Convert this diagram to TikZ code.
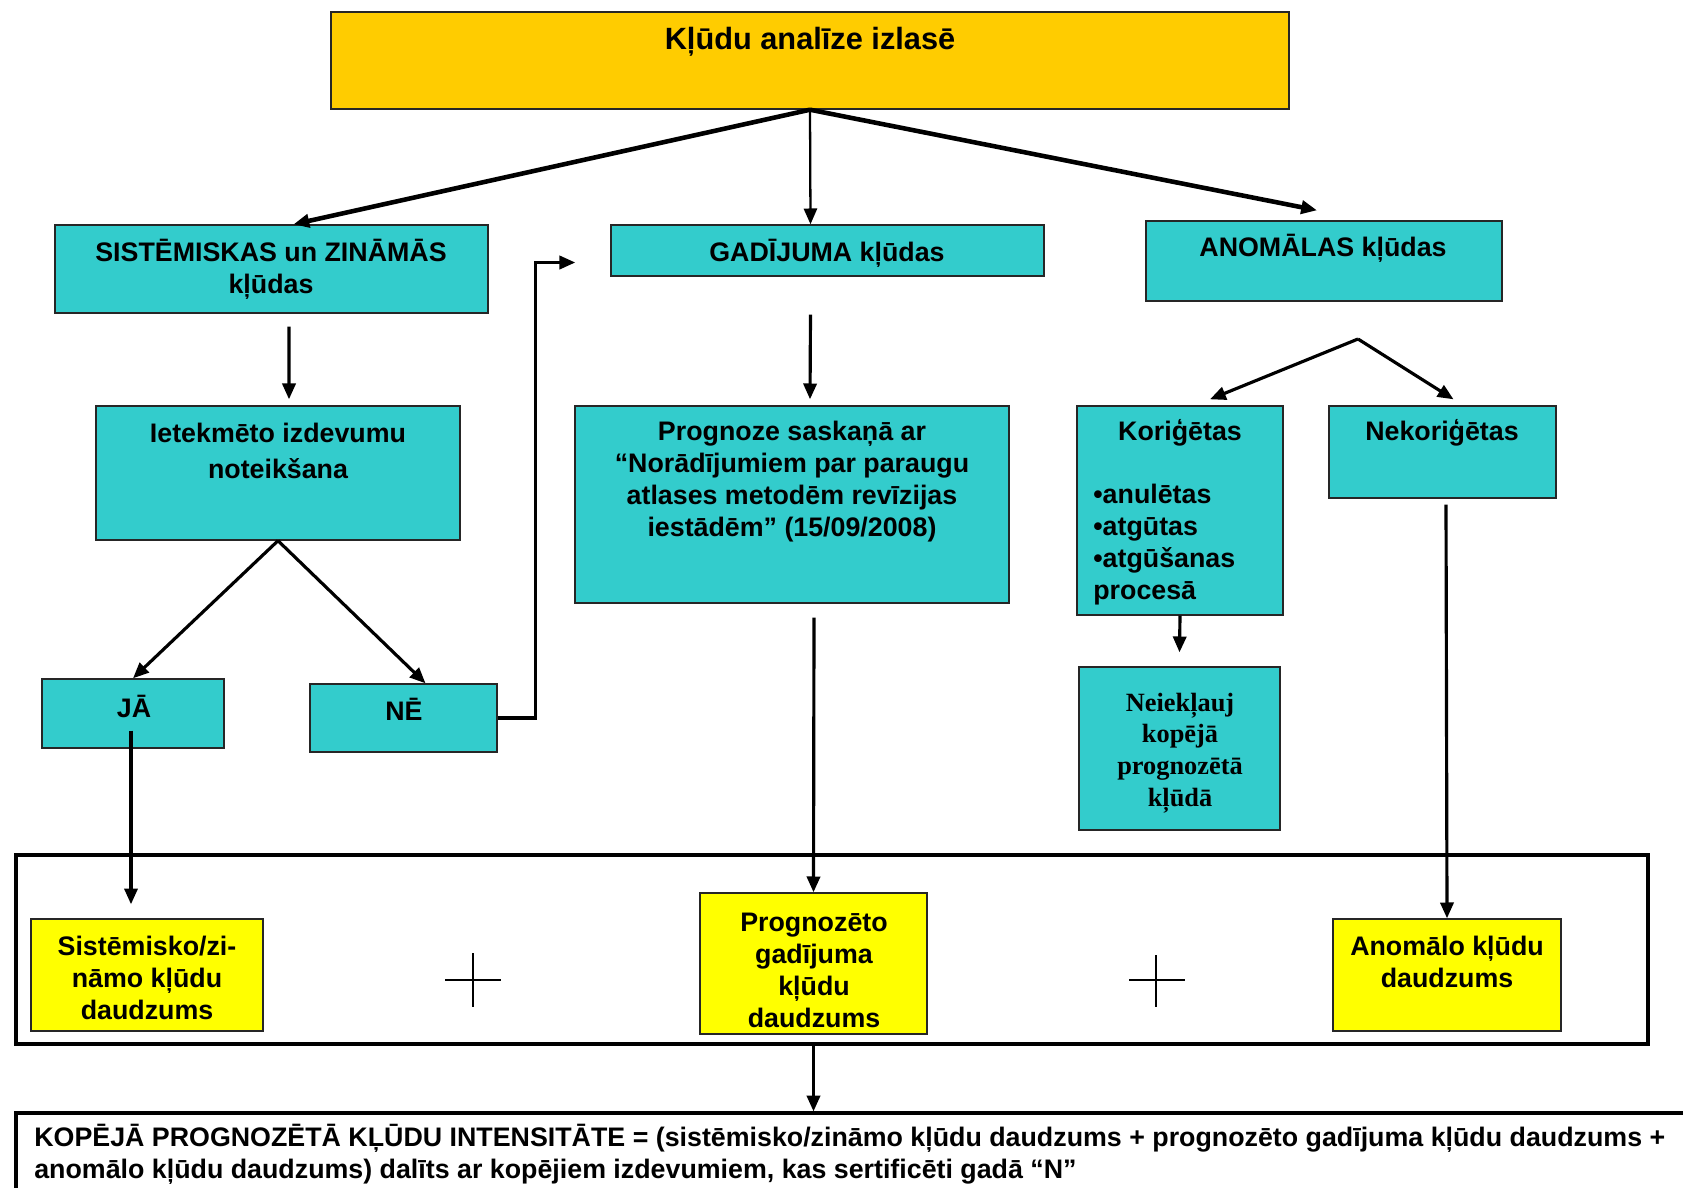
\documentclass[tikz,border=0pt]{standalone}
\usepackage{fontspec}
\setmainfont{Liberation Sans}
\newfontfamily\serifbf{Liberation Serif}
\usetikzlibrary{arrows.meta,fit,calc}
\definecolor{boxcyan}{HTML}{33CCCC}
\definecolor{boxorange}{HTML}{FFCC00}
\definecolor{boxyellow}{HTML}{FFFF00}
\tikzset{
  box/.style={draw=black!85, line width=0.8pt, fill=boxcyan, inner sep=0pt},
  sumbox/.style={box, fill=boxyellow},
  txt/.style={font=\fontsize{15.25}{18.2}\selectfont\bfseries, align=center, inner sep=0pt},
  arr/.style={-{Triangle[length=9pt,width=7.5pt]}, line width=1.8pt},
}
\begin{document}
\begin{tikzpicture}[x=0.02cm,y=-0.02cm]
\useasboundingbox (0,0) rectangle (1683,1187);
\clip (0,0) rectangle (1683,1187);
% boxes
\node[box, fill=boxorange, fit={(331,12) (1289,109)}] (topB) {};
\node[box, fit={(55,225) (488,313)}] (sisB) {};
\node[box, fit={(611,225) (1044,276)}] (gadB) {};
\node[box, fit={(1146,221) (1502,301)}] (anoB) {};
\node[box, fit={(96,406) (460,540)}] (ietB) {};
\node[box, fit={(575,406) (1009,603)}] (progB) {};
\node[box, fit={(1077,406) (1283,615)}] (korB) {};
\node[box, fit={(1329,406) (1556,498)}] (nekB) {};
\node[box, fit={(1079,667) (1280,830)}] (neiB) {};
\node[box, fit={(42,679) (224,748)}] (jaB) {};
\node[box, fit={(310,684) (497,752)}] (neB) {};
% frame with the three sums
\node[draw, line width=2.4pt, inner sep=0pt, fit={(16,855) (1648,1044)}] (frame) {};
\node[sumbox, fit={(31,919) (263,1031)}] (sisSB) {};
\node[sumbox, fit={(700,893) (927,1034)}] (pgzB) {};
\node[sumbox, fit={(1333,919) (1561,1031)}] (anqB) {};
\node[draw, line width=1.8pt, inner sep=0pt, fit={(16,1113) (1720,1240)}] (totB) {};
% texts
\node[txt, font=\fontsize{17.5}{20}\selectfont\bfseries] (topT) at (810,42) {Kļūdu analīze izlasē};
\node[txt] (sisT) at (271,269) {SISTĒMISKAS un ZINĀMĀS\\kļūdas};
\node[txt] (gadT) at (827,253) {GADĪJUMA kļūdas};
\node[txt] (anoT) at (1323,248) {ANOMĀLAS kļūdas};
\node[txt] (ietT) at (278,451) {Ietekmēto izdevumu\\[2.5pt]noteikšana};
\node[txt] (progT) at (792,482) {Prognoze saskaņā ar\\“Norādījumiem par paraugu\\atlases metodēm revīzijas\\iestādēm” (15/09/2008)};
\node[txt] (korT) at (1180,433) {Koriģētas};
\node[txt, align=left, anchor=west] (korL) at (1093,545) {•anulētas\\•atgūtas\\•atgūšanas\\procesā};
\node[txt] (nekT) at (1442,433) {Nekoriģētas};
\node[txt, font=\fontsize{15}{18}\selectfont\serifbf\bfseries] (neiT) at (1180,753) {Neiekļauj\\kopējā\\prognozētā\\kļūdā};
\node[txt] (jaT) at (134,706) {JĀ};
\node[txt] (neT) at (404,709) {NĒ};
\node[txt] (sisST) at (147,978) {Sistēmisko/zi-\\nāmo kļūdu\\daudzums};
\node[txt] (pgzT) at (814,970) {Prognozēto\\gadījuma\\kļūdu\\daudzums};
\node[txt] (anqT) at (1447,962) {Anomālo kļūdu\\daudzums};
\node[txt, align=left, anchor=west] (totT) at (34,1154) {KOPĒJĀ PROGNOZĒTĀ KĻŪDU INTENSITĀTE = (sistēmisko/zināmo kļūdu daudzums + prognozēto gadījuma kļūdu daudzums +\\anomālo kļūdu daudzums) dalīts ar kopējiem izdevumiem, kas sertificēti gadā “N”};
% plus signs
\draw[line width=0.9pt] (445,980) -- (501,980) (473,953) -- (473,1007);
\draw[line width=0.9pt] (1129,980) -- (1185,980) (1156,955) -- (1156,1007);
% arrows
\coordinate (anoSplit) at (1358,339);
\draw[arr, line width=2.6pt] (topB.south) -- ([shift={(22,0)}]sisB.north);
\draw[arr, line width=1.3pt] (topB.south) -- ([shift={(-17,0)}]gadB.north);
\draw[arr, line width=2.6pt] (topB.south) -- ([shift={(-7,-10)}]anoB.north);
\draw[arr] ([shift={(17.5,13)}]sisB.south) -- ([shift={(11,-6)}]ietB.north);
\draw[arr] ([shift={(-17,38)}]gadB.south) -- ([shift={(18,-6)}]progB.north);
\draw[arr] (ietB.south) -- (jaB.north);
\draw[arr] (ietB.south) -- ([shift={(22,0)}]neB.north);
\draw[arr] (neB.east) -- ++(38,0) |- ([shift={(-35,12)}]gadB.west);
\draw[arr] (anoSplit) -- ([shift={(30,-6)}]korB.north);
\draw[arr] (anoSplit) -- ([shift={(11,-6)}]nekB.north);
\draw[arr] (korB.south) -- ([shift={(0,-14)}]neiB.north);
\draw[arr] ([shift={(-2,17)}]jaB.center) -- ([shift={(-16,-14)}]sisSB.north);
\draw[arr] ([shift={(22,14)}]progB.south) -- (pgzB.north);
\draw[arr] ([shift={(3.5,6)}]nekB.south) -- (anqB.north);
\draw[arr] (pgzB.south |- frame.south) -- (pgzB.south |- totB.north);
\end{tikzpicture}
\end{document}
